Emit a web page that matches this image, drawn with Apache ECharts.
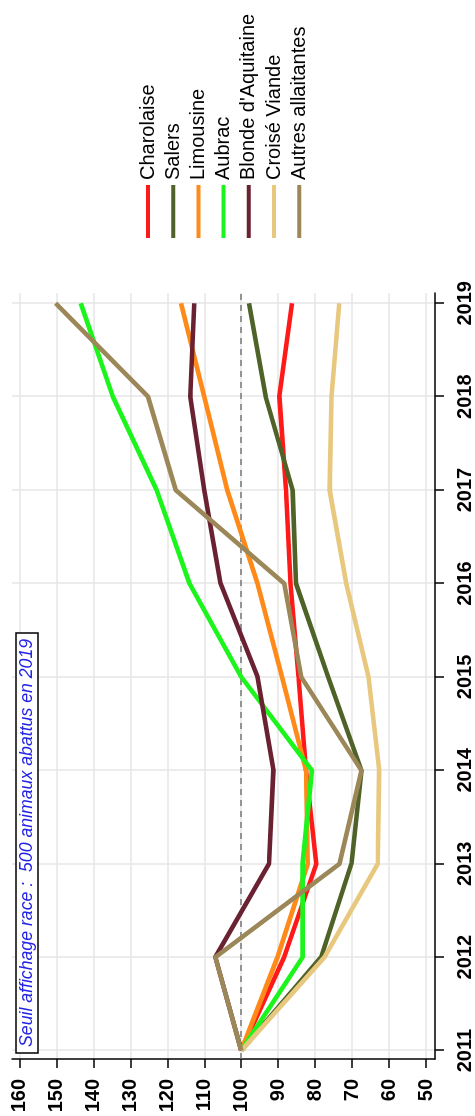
<!DOCTYPE html>
<html>
<head>
<meta charset="utf-8">
<script src="https://cdn.jsdelivr.net/npm/echarts@6/dist/echarts.min.js"></script>
<style>
  html, body { margin: 0; padding: 0; background: #fff; overflow: hidden; }
  #wrap { position: relative; width: 475px; height: 1116px; overflow: hidden; background: #fff; }
  #chart { position: absolute; left: 0; top: 0; width: 1116px; height: 475px;
           transform-origin: 0 0; transform: translateY(1116px) rotate(-90deg); }
</style>
</head>
<body>
<div id="wrap"><div id="chart"></div></div>
<script>
const years = [2011, 2012, 2013, 2014, 2015, 2016, 2017, 2018, 2019];
const valueTicks = [50, 60, 70, 80, 90, 100, 110, 120, 130, 140, 150, 160];

const charolaise = [100, 88.4, 79.7, 82.5, 84.5, 86.7, 87.9, 89.7, 86.3];
const salers     = [100, 78.4, 70.2, 67.5, 76.5, 85.2, 86.1, 93.4, 97.9];
const limousine  = [100, 90.2, 82.0, 82.5, 89.0, 95.6, 103.8, 110.0, 116.3];
const aubrac     = [100, 83.4, 83.4, 80.9, 100.0, 114.0, 122.9, 134.7, 143.4];
const blonde     = [100, 107.0, 92.5, 91.3, 95.6, 105.6, 110.0, 113.8, 112.7];
const croise     = [100, 77.5, 63.1, 62.7, 65.6, 71.6, 76.1, 75.6, 73.5];
const autres     = [100, 107.0, 73.4, 67.5, 83.8, 88.4, 117.7, 125.2, 150.2];

const seriesNames = ['Charolaise', 'Salers', 'Limousine', 'Aubrac', "Blonde d'Aquitaine", 'Croisé Viande', 'Autres allaitantes'];
const seriesData = [charolaise, salers, limousine, aubrac, blonde, croise, autres];
const seriesColors = ['#ff1a1a', '#4f6228', '#ff8a1a', '#1cf51c', '#6a2232', '#e8c87e', '#9c8758'];
const thresholdValue = 100;
const noteText = 'Seuil affichage race :  500 animaux abattus en 2019';

const FONT = "'Liberation Sans', Arial, sans-serif";
const chart = echarts.init(document.getElementById('chart'), null, { renderer: 'canvas' });

const series = seriesNames.map((name, i) => ({
  name: name,
  type: 'line',
  data: years.map((y, j) => [y, seriesData[i][j]]),
  showSymbol: false,
  symbol: 'none',
  color: seriesColors[i],
  lineStyle: { width: 4.6, color: seriesColors[i] },
  z: 3 + i,
  silent: true
}));
series[0].markLine = {
  silent: true,
  symbol: ['none', 'none'],
  label: { show: false },
  lineStyle: { type: [6, 5], color: '#777', width: 1.5 },
  data: [{ yAxis: thresholdValue }]
};

chart.setOption({
  animation: false,
  backgroundColor: '#fff',
  textStyle: { fontFamily: FONT },
  title: {
    text: noteText,
    left: 63, top: 16,
    padding: [2, 6, 2, 6],
    borderColor: '#000', borderWidth: 1.5, backgroundColor: '#fff',
    textStyle: { color: '#2424e6', fontStyle: 'italic', fontWeight: 'normal', fontSize: 17.7, fontFamily: FONT }
  },
  legend: {
    orient: 'vertical',
    left: 878, top: 138,
    padding: 0,
    icon: 'rect',
    itemWidth: 53, itemHeight: 4, itemGap: 5.2,
    textStyle: { fontSize: 20, lineHeight: 20, color: '#000', fontFamily: FONT },
    data: seriesNames
  },
  grid: { left: 57, right: 293, top: 12, bottom: 40, containLabel: false },
  xAxis: {
    type: 'value',
    min: 2010.91, max: 2019.11,
    axisLine: { show: true, lineStyle: { color: '#000', width: 1.5 } },
    axisTick: { show: true, length: 9, lineStyle: { color: '#000', width: 1.5 }, customValues: years },
    axisLabel: { customValues: years, fontSize: 20, fontWeight: 'bold', color: '#000', margin: 20, fontFamily: FONT,
                 formatter: v => String(Math.round(v)) },
    splitLine: { show: true, lineStyle: { color: '#e6e6e6', width: 1.5 } }
  },
  yAxis: {
    type: 'value',
    min: 47.6, max: 162,
    axisLine: { show: true, lineStyle: { color: '#000', width: 1.5 } },
    axisTick: { show: true, length: 9, lineStyle: { color: '#000', width: 1.5 }, customValues: valueTicks },
    axisLabel: { customValues: valueTicks, fontSize: 20, fontWeight: 'bold', color: '#000', margin: 20, fontFamily: FONT,
                 formatter: v => String(Math.round(v)) },
    splitLine: { show: true, lineStyle: { color: '#e6e6e6', width: 1.5 } }
  },
  series: series
});
</script>
</body>
</html>
